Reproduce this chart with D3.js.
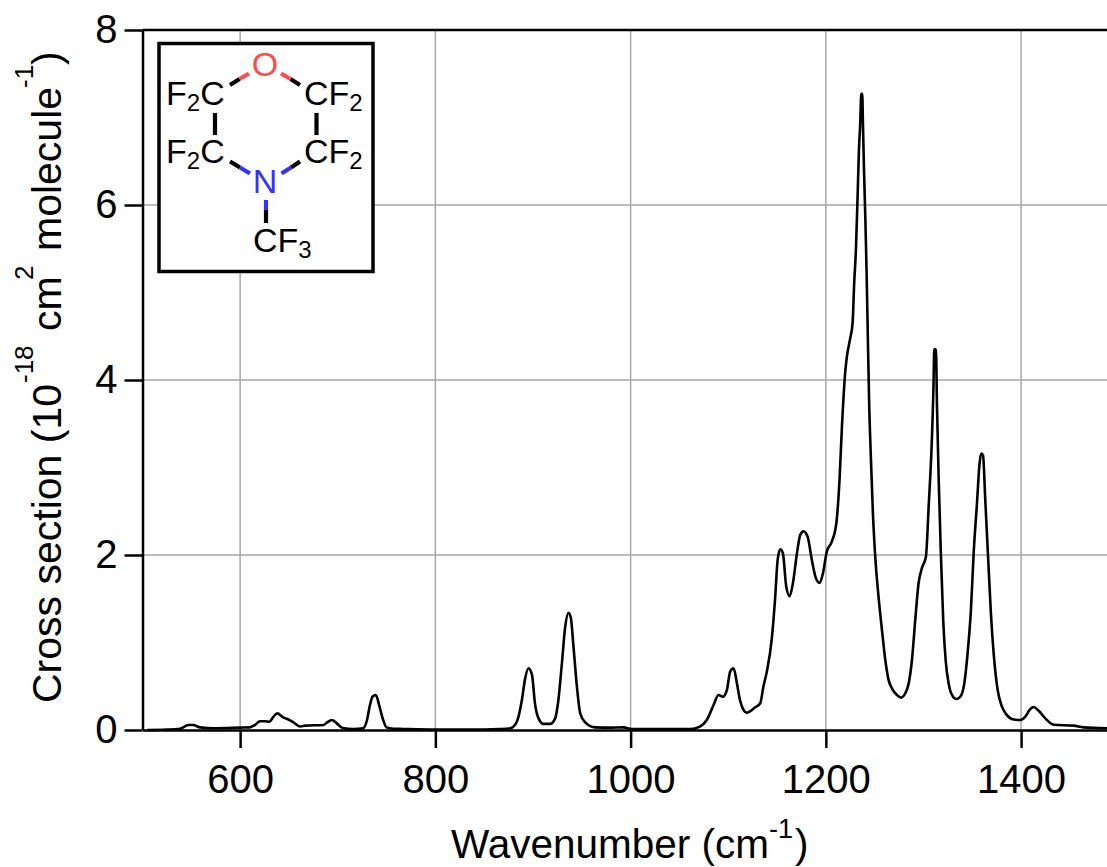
<!DOCTYPE html>
<html>
<head>
<meta charset="utf-8">
<style>
  html, body { margin: 0; padding: 0; background: #fff; overflow: hidden; }
  svg { display: block; }
  text { font-family: "Liberation Sans", Arial, sans-serif; fill: #000; }
  .grid line { stroke: #a6a6a6; stroke-width: 1.5px; }
  .axis path, .axis line { stroke: #000; stroke-width: 2.5px; }
  .axis text { font-size: 40px; font-family: "Liberation Sans", Arial, sans-serif; fill: #000; }
</style>
</head>
<body>
<div id="chart"></div>
<script src="https://cdnjs.cloudflare.com/ajax/libs/d3/7.8.5/d3.min.js"></script>
<script>
var xTicks = [600, 800, 1000, 1200, 1400];
var yTicks = [0, 2, 4, 6, 8];

// wavenumber in cm-1
var wavenumbers = [
  505, 525, 538.5, 547, 552, 559, 573, 600, 610, 615, 620.5, 625.6, 630, 634, 638, 644, 649.5, 655,
  661.5, 667, 685.4, 688.8, 694, 699, 705, 716, 726, 730, 733, 735.6, 739, 742.4, 746, 750, 757, 767,
  800, 850, 866, 877, 883.5, 888.6, 892, 895.4, 899, 902, 905.7, 910.8, 917.6, 922.7, 926, 929.6, 933,
  936.4, 938.8, 941.5, 945, 948.4, 953.5, 963.7, 979, 992.8, 1001, 1061, 1071, 1078, 1085, 1090, 1094.5,
  1098.6, 1102, 1105.5, 1108.9, 1112, 1115.7, 1119, 1127.6, 1132.8, 1136, 1139.6, 1144.7, 1148, 1150.6,
  1153.3, 1156, 1159.4, 1162.9, 1166.3, 1170.4, 1173.8, 1177.2, 1181.3, 1185.7, 1190, 1193.6, 1197, 1201,
  1206, 1210.7, 1214, 1216.5, 1220, 1221.6, 1225, 1227.4, 1229, 1230.8, 1232.5, 1233.9, 1235.2, 1236.3,
  1237.3, 1238, 1239, 1240.5, 1241.8, 1243, 1244.3, 1246.2, 1248.2, 1250.6, 1254, 1257.5, 1260.9, 1264.3,
  1267.7, 1272.8, 1276.9, 1281.4, 1284.8, 1288.2, 1291.6, 1295, 1298.4, 1302.5, 1305.3, 1308.7, 1310.4,
  1311, 1312.8, 1313.8, 1315.6, 1317.8, 1320.2, 1322.7, 1325.8, 1329.2, 1333.6, 1337.7, 1341.8, 1345.2,
  1348.6, 1351.4, 1354.8, 1357.5, 1359.2, 1361, 1363.3, 1366, 1369.1, 1371.9, 1376, 1380.4, 1385.5,
  1392.3, 1399.2, 1404.3, 1408.7, 1412.8, 1418, 1424.8, 1433.3, 1453.8, 1464, 1488
];

// cross section in 10^-18 cm2 molecule-1
var crossSection = [
  0, 0.005, 0.015, 0.057, 0.057, 0.03, 0.02, 0.027, 0.03, 0.057, 0.10, 0.10, 0.095, 0.15, 0.19, 0.145, 0.12, 0.084,
  0.04, 0.05, 0.057, 0.084, 0.114, 0.076, 0.023, 0.012, 0.02, 0.114, 0.285, 0.38, 0.40, 0.285, 0.133, 0.03, 0.015, 0.012,
  0.005, 0.005, 0.01, 0.02, 0.095, 0.34, 0.59, 0.705, 0.63, 0.305, 0.133, 0.07, 0.07, 0.133, 0.34, 0.76, 1.18,
  1.34, 1.28, 0.95, 0.495, 0.19, 0.088, 0.03, 0.027, 0.03, 0.01, 0.01, 0.038, 0.114, 0.286, 0.40, 0.38,
  0.457, 0.667, 0.705, 0.533, 0.343, 0.229, 0.198, 0.26, 0.305, 0.495, 0.67, 1.05, 1.5, 1.94,
  2.065, 2.02, 1.64, 1.53, 1.68, 2.02, 2.23, 2.27, 2.21, 1.94, 1.73, 1.68, 1.79, 2.04,
  2.15, 2.36, 2.86, 3.47, 4.11, 4.27, 4.48, 4.65, 5.1, 5.49, 6.09, 6.63, 6.93, 7.27,
  7.27, 6.93, 6.44, 5.83, 5.2, 4.5, 3.77, 3.09, 2.48, 1.98, 1.52, 1.14, 0.8, 0.57,
  0.476, 0.4, 0.37, 0.42, 0.53, 0.8, 1.26, 1.68, 1.85, 1.98, 2.55, 3.35, 4.0,
  4.35, 4.35, 3.73, 2.86, 2.02, 1.26, 0.8, 0.53, 0.4, 0.354, 0.38, 0.53, 0.876,
  1.37, 2.02, 2.59, 3.05, 3.16, 3.14, 2.63, 2.02, 1.33, 0.876, 0.457, 0.267, 0.17,
  0.12, 0.114, 0.152, 0.229, 0.263, 0.22, 0.133, 0.06, 0.05, 0.03, 0.02
];

var spectrum = d3.zip(wavenumbers, crossSection);

var width = 1107, height = 867;
var left = 142.5, top_ = 30, bottom = 730;

var svg = d3.select("#chart").append("svg")
  .attr("width", width)
  .attr("height", height);

var x = d3.scaleLinear().domain([500, 1488]).range([left, width]);
var y = d3.scaleLinear().domain([0, 8]).range([bottom, top_]);

// gridlines first so everything else sits on top
svg.append("g").attr("class", "grid")
  .selectAll("line.v").data(xTicks).enter().append("line")
  .attr("x1", x).attr("x2", x)
  .attr("y1", top_).attr("y2", bottom);
svg.append("g").attr("class", "grid")
  .selectAll("line.h").data(yTicks.slice(1, 4)).enter().append("line")
  .attr("x1", left).attr("x2", width)
  .attr("y1", y).attr("y2", y);

var xAxis = svg.append("g").attr("class", "axis")
  .attr("transform", "translate(0," + bottom + ")")
  .call(d3.axisBottom(x).tickValues(xTicks).tickFormat(d3.format("d")).tickSize(18).tickSizeOuter(0).tickPadding(17));
var yAxis = svg.append("g").attr("class", "axis")
  .attr("transform", "translate(" + left + ",0)")
  .call(d3.axisLeft(y).tickValues(yTicks).tickFormat(d3.format("d")).tickSize(18).tickSizeOuter(0).tickPadding(7));

// top frame line, no right one in the picture
svg.append("line")
  .attr("x1", left).attr("x2", width)
  .attr("y1", y(8)).attr("y2", y(8))
  .attr("stroke", "#000").attr("stroke-width", 2.5);

var line = d3.line()
  .curve(d3.curveMonotoneX)
  .x(function(d) { return x(d[0]); })
  .y(function(d) { return y(d[1]); });

svg.append("path")
  .datum(spectrum)
  .attr("d", line)
  .attr("fill", "none")
  .attr("stroke", "#000")
  .attr("stroke-width", 2.6)
  .attr("stroke-linejoin", "round");

// axis titles, pieces are placed one by one because of the superscripts
function label(g, str, px, py, size) {
  return g.append("text")
    .attr("x", px).attr("y", py)
    .attr("font-size", size)
    .text(str);
}

label(svg, "Wavenumber (cm", 451, 858, 40.5);
label(svg, "-1", 769, 838, 27);
label(svg, ")", 795, 858, 40.5);

var yTitle = svg.append("g").attr("transform", "translate(61,0) rotate(-90)");
label(yTitle, "Cross section (10", -703, 0, 41);
label(yTitle, "-18", -383, -28, 26);
label(yTitle, "cm", -331, 0, 41);
label(yTitle, "2", -280, -28, 26);
label(yTitle, "molecule", -251, 0, 41);
label(yTitle, "-1", -88, -28, 26);
label(yTitle, ")", -65, 0, 41);

// inset with the molecule
var inset = svg.append("g");
inset.append("rect")
  .attr("x", 159).attr("y", 43.5)
  .attr("width", 214).attr("height", 228)
  .attr("fill", "#fff")
  .attr("stroke", "#000")
  .attr("stroke-width", 3.5);

var oxygen = "#ff4d4d", nitrogen = "#3333ff";

function bond(x1, y1, x2, y2, colour) {
  inset.append("line")
    .attr("x1", x1).attr("y1", y1)
    .attr("x2", x2).attr("y2", y2)
    .attr("stroke", colour)
    .attr("stroke-width", 4.2);
}

bond(230, 85, 239.5, 79, "#000");
bond(239.5, 79, 249, 73.5, oxygen);
bond(300, 85, 290.5, 79, "#000");
bond(290.5, 79, 281, 73.5, oxygen);
bond(215, 113, 215, 135, "#000");
bond(316.5, 113, 316.5, 135, "#000");
bond(230, 161.5, 240, 167.5, "#000");
bond(240, 167.5, 250, 173.5, nitrogen);
bond(300, 161.5, 291, 167.5, "#000");
bond(291, 167.5, 281.5, 173.5, nitrogen);
bond(266, 200, 266, 209.5, nitrogen);
bond(266, 209.5, 266, 223, "#000");

function formula(parts, px, py) {
  var t = inset.append("text").attr("x", px).attr("y", py).attr("font-size", 34);
  parts.forEach(function(p) {
    t.append("tspan")
      .attr("font-size", p.sub ? 24 : 34)
      .attr("dy", p.sub ? 6 : (p.after ? -6 : 0))
      .text(p.s);
  });
}

formula([{s: "F"}, {s: "2", sub: true}, {s: "C", after: true}], 166, 105);
formula([{s: "F"}, {s: "2", sub: true}, {s: "C", after: true}], 166, 163);
formula([{s: "CF"}, {s: "2", sub: true}], 304, 105);
formula([{s: "CF"}, {s: "2", sub: true}], 304, 163);
formula([{s: "CF"}, {s: "3", sub: true}], 253, 252);

inset.append("text")
  .attr("x", 265).attr("y", 76)
  .attr("text-anchor", "middle")
  .attr("font-size", 34)
  .style("fill", oxygen)
  .text("O");
inset.append("text")
  .attr("x", 265).attr("y", 193)
  .attr("text-anchor", "middle")
  .attr("font-size", 34)
  .style("fill", nitrogen)
  .text("N");
</script>
</body>
</html>
